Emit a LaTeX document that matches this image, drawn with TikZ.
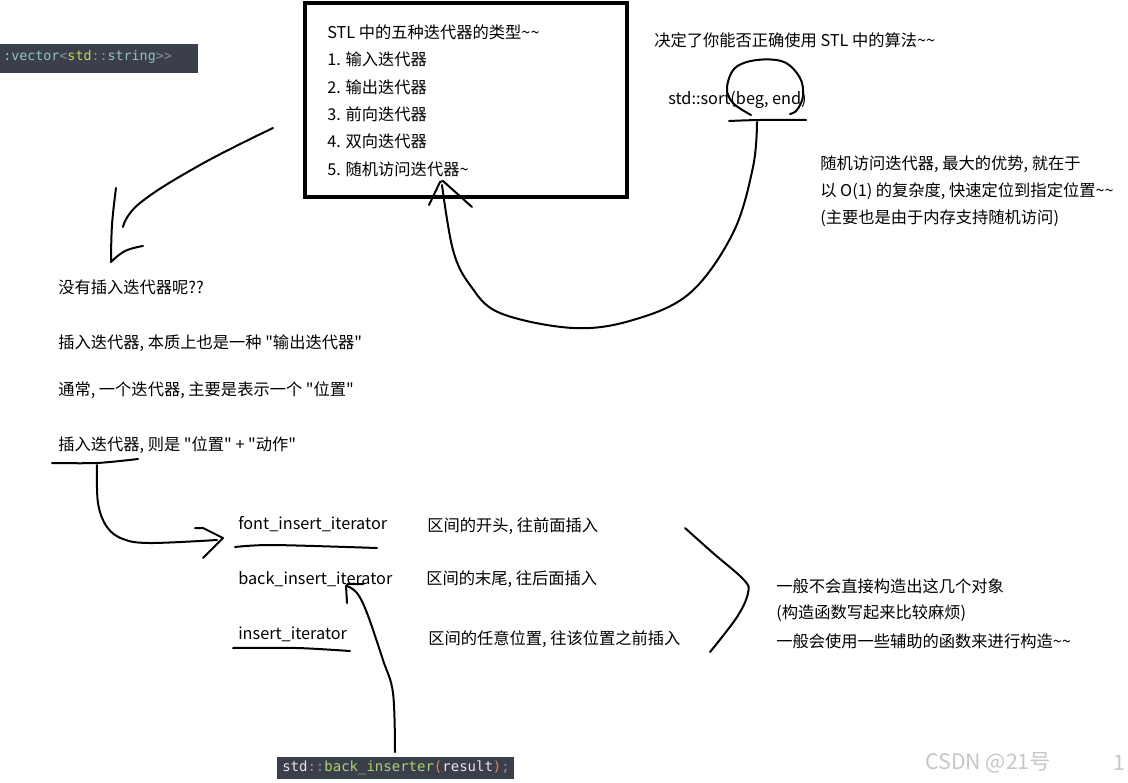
\documentclass[tikz,border=0pt]{standalone}
\usepackage{fontspec}
\setmainfont{Noto Sans CJK SC}[Ligatures=TeXOff]
\newfontfamily\codefont{DejaVu Sans Mono}
\newfontfamily\wmfont{Noto Sans CJK SC}
\definecolor{codebg}{HTML}{3B3F4C}
\definecolor{codeteal}{HTML}{8CC8B4}
\definecolor{codeyel}{HTML}{C8D250}
\definecolor{codegray}{HTML}{8A8F9C}
\definecolor{codegreen}{HTML}{A8D46E}
\definecolor{codeorange}{HTML}{E0894A}
\definecolor{codewhite}{HTML}{E6E6E6}
\begin{document}
\begin{tikzpicture}[x=0.75pt,y=-0.75pt,
  txt/.style={anchor=west,inner sep=0pt,font=\fontsize{12.2}{14}\selectfont,text=black},
  pen/.style={line width=1.5pt,line cap=round,line join=round,black},
  codetxt/.style={anchor=west,inner sep=0pt,font=\codefont\fontsize{10}{12}\selectfont}]
\useasboundingbox (0,0) rectangle (1128,782);
\fill[white] (0,0) rectangle (1128,782);

% main box
\draw[line width=2.3pt] (305,3) rectangle (627,197);
\node[txt] (t0) at (327,32) {STL 中的五种迭代器的类型\textasciitilde\textasciitilde};
\node[txt] (t1) at (327,59) {1. 输入迭代器};
\node[txt] (t2) at (327,87) {2. 输出迭代器};
\node[txt] (t3) at (327,114) {3. 前向迭代器};
\node[txt] (t4) at (327,141) {4. 双向迭代器};
\node[txt] (t5) at (327,169) {5. 随机访问迭代器\textasciitilde};

% top-left code snippet
\fill[codebg] (0,44) rectangle (198,73);
\node[codetxt] (code1) at (3,57) {\textcolor{codeteal}{:vector}\textcolor{codegray}{<}\textcolor{codeyel}{std}\textcolor{codegray}{::}\textcolor{codeteal}{string}\textcolor{codegray}{>>}};

% right top texts
\node[txt] (r0) at (654,40) {决定了你能否正确使用 STL 中的算法\textasciitilde\textasciitilde};
\node[txt] (sort) at (668,100) {std::sort(beg, end)};
\node[txt] (r1) at (820,164) {随机访问迭代器, 最大的优势, 就在于};
\node[txt] (r2) at (820,191) {以 O(1) 的复杂度, 快速定位到指定位置\textasciitilde\textasciitilde};
\node[txt] (r3) at (820,218) {(主要也是由于内存支持随机访问)};

% left texts
\node[txt] (l1) at (58,287) {没有插入迭代器呢??};
\node[txt] (l2) at (58,343) {插入迭代器, 本质上也是一种 "输出迭代器"};
\node[txt] (l3) at (58,390) {通常, 一个迭代器, 主要是表示一个 "位置"};
\node[txt] (l4) at (58,445) {插入迭代器, 则是 "位置" + "动作"};

% iterator kinds
\node[txt] (fi) at (238,524) {font\_insert\_iterator};
\node[txt] (bi) at (238,579) {back\_insert\_iterator};
\node[txt] (ii) at (238,634) {insert\_iterator};
\node[txt] (d1) at (427,526) {区间的开头, 往前面插入};
\node[txt] (d2) at (426,579) {区间的末尾, 往后面插入};
\node[txt] (d3) at (428,639) {区间的任意位置, 往该位置之前插入};

\node[txt] (n1) at (776,586) {一般不会直接构造出这几个对象};
\node[txt] (n2) at (776,613) {(构造函数写起来比较麻烦)};
\node[txt] (n3) at (776,641) {一般会使用一些辅助的函数来进行构造\textasciitilde\textasciitilde};

% bottom code snippet
\fill[codebg] (277,757) rectangle (514,779);
\node[codetxt,font=\codefont\fontsize{10.5}{12}\selectfont] (code2) at (282,768) {\textcolor{codewhite}{std}\textcolor{codegray}{::}\textcolor{codegreen}{back\_inserter}\textcolor{codeorange}{(}\textcolor{codewhite}{result}\textcolor{codeorange}{)}\textcolor{codegray}{;}};

% watermark
\node[anchor=west,inner sep=0pt,font=\wmfont\fontsize{16}{18}\selectfont,text=black!22] (wm) at (925,763) {CSDN @21号};
\node[anchor=west,inner sep=0pt,font=\wmfont\fontsize{16}{18}\selectfont,text=black!22] (wm1) at (1113,763) {1};

% ---- hand strokes ----
% arrow from box down-left
\draw[pen] plot[smooth,tension=0.7] coordinates {(273,128) (200,165) (140,203) (123,227)};
\draw[pen] plot[smooth,tension=0.7] coordinates {(116,188) (112,225) (111,262)};
\draw[pen] plot[smooth,tension=0.7] coordinates {(111,262) (125,251) (143,246)};

% circle around (beg, end)
\draw[pen] plot[smooth,tension=0.6] coordinates {(751,115) (733,103) (727,88) (735,68) (757,60) (784,62) (800,78) (803,96) (797,110) (790,114)};
% underline sort
\draw[pen] plot[smooth,tension=0.6] coordinates {(729,121) (760,120) (806,120)};
% big curved arrow to random access
\draw[pen] plot[smooth,tension=0.6] coordinates {(757,122) (753,167) (733,233) (690,293) (633,320) (573,328) (500,313) (470,285) (453,250) (442,185)};
\draw[pen] (429,205) -- (440,182) -- (443,181) -- (472,207);

% underline and arrow to font_insert_iterator
\draw[pen] plot[smooth,tension=0.5] coordinates {(52,463) (97,463) (138,459)};
\draw[pen] plot[smooth,tension=0.6] coordinates {(97,465) (98,503) (107,527) (123,539) (150,543) (217,540)};
\draw[pen] (195,528) -- (203,528) -- (223,538) -- (203,558);
\draw[pen] plot[smooth,tension=0.5] coordinates {(235,547) (273,545) (377,548)};

% insert_iterator underline
\draw[pen] plot[smooth,tension=0.5] coordinates {(233,648) (297,648) (350,651)};

% arrow from bottom code to back_insert_iterator
\draw[pen] plot[smooth,tension=0.6] coordinates {(395,752) (393,693) (383,660) (367,613) (357,593) (347,586)};
\draw[pen] (347,603) -- (346,586) -- (348,584) -- (363,584);

% bracket on the right
\draw[pen] plot[smooth,tension=0.6] coordinates {(685,528) (713,553) (744,580) (748,593) (737,617) (710,652)};
\end{tikzpicture}
\end{document}
